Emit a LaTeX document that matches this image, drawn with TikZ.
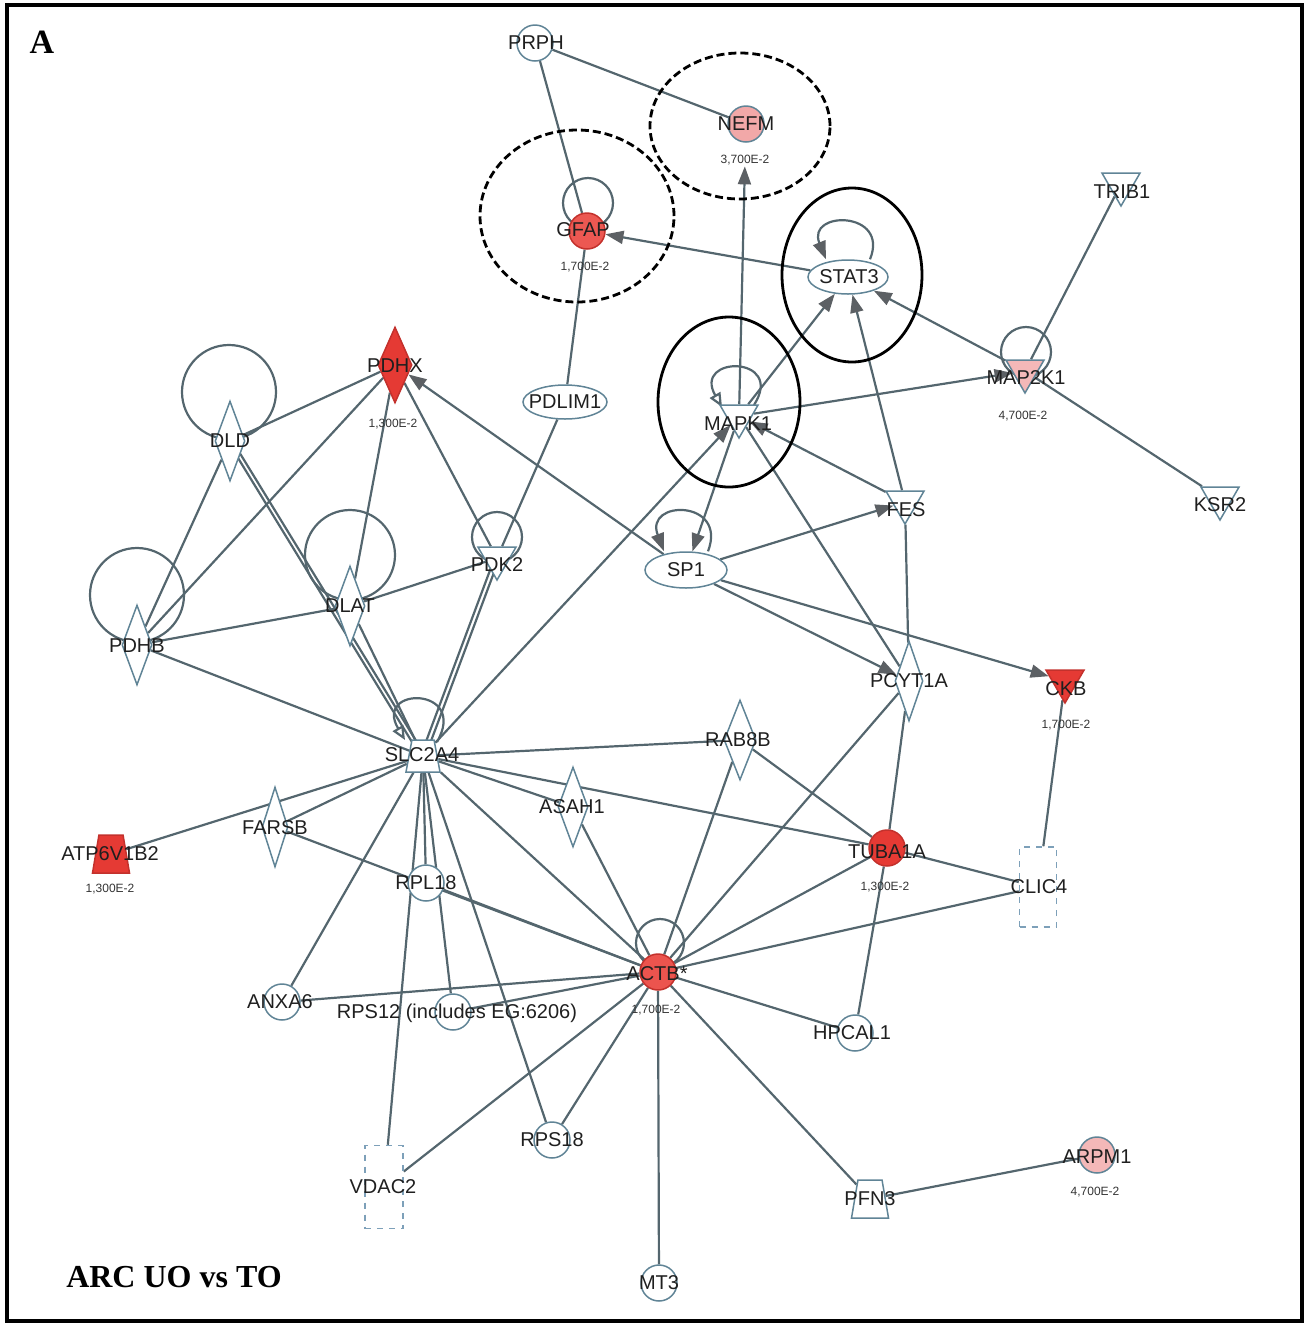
\documentclass[tikz,border=0pt]{standalone}
\usepackage{fontspec}
\setmainfont{Liberation Sans}
\newfontfamily\panelfont{Liberation Serif}
\usepackage{tikz}
\usetikzlibrary{shapes.geometric, arrows.meta, backgrounds, calc}

\definecolor{nodeline}{RGB}{96,132,150}
\definecolor{boxline}{RGB}{125,160,185}
\definecolor{linkc}{RGB}{84,102,110}
\definecolor{tipc}{RGB}{92,96,100}
\definecolor{redc}{RGB}{229,58,52}
\definecolor{gfapc}{RGB}{236,88,82}
\definecolor{actbc}{RGB}{236,84,78}
\definecolor{pinkc}{RGB}{242,168,168}
\definecolor{palec}{RGB}{244,184,184}

\begin{document}
\begin{tikzpicture}[x=0.5pt,y=0.5pt,yscale=-1,
  gene/.style={circle, draw=nodeline, line width=0.75pt, fill=white, minimum size=18pt, inner sep=0pt},
  kin/.style={regular polygon, regular polygon sides=3, shape border rotate=180, draw=nodeline, line width=0.75pt, fill=white, minimum size=22pt, inner sep=0pt},
  dia/.style={diamond, draw=nodeline, line width=0.75pt, fill=white, minimum width=15pt, minimum height=40pt, inner sep=0pt},
  tf/.style={ellipse, draw=nodeline, line width=0.75pt, fill=white, minimum width=40pt, minimum height=17pt, inner sep=0pt},
  tra/.style={trapezium, trapezium stretches=true, trapezium left angle=75, trapezium right angle=75, draw=nodeline, line width=0.75pt, fill=white, minimum width=18.5pt, minimum height=19pt, inner sep=1pt},
  oth/.style={rectangle, draw=boxline, dashed, line width=0.75pt, fill=white, minimum width=18.5pt, minimum height=40pt, inner sep=0pt},
  hit/.style={draw=redc!85!black, fill=redc},
  lbl/.style={font=\fontsize{10}{12}\selectfont, text=black!88, inner sep=0pt},
  pval/.style={font=\fontsize{6}{7}\selectfont, text=black!80, inner sep=0.5pt},
  lnk/.style={draw=linkc, line width=1.1pt},
  act/.style={lnk, -{Triangle[length=9pt,width=6.5pt,color=tipc]}},
  self/.style={lnk, -{Triangle[length=7pt,width=6pt,fill=white]}},
  ring/.style={ellipse, draw=black, line width=1.4pt, inner sep=0pt},
]
\useasboundingbox (0,0) rectangle (1308,1324);

%Shape: Rectangle
\draw [line width=1.6pt] (7,5) rectangle (1302,1321);

%Shape: Circle
\node[gene, fill=pinkc] (nefm) at (746,124) {};
\node[gene] (prph) at (535,43) {};
\node[gene, hit, fill=gfapc] (gfap) at (587,231) {};
\node[gene, hit] (tuba1a) at (887,848) {};
\node[gene, hit, fill=actbc] (actb) at (658,972) {};
\node[gene] (hpcal1) at (855,1033) {};
\node[gene] (rpl18) at (426,883) {};
\node[gene] (anxa6) at (282,1002) {};
\node[gene] (rps12) at (453,1012) {};
\node[gene] (rps18) at (552,1140) {};
\node[gene] (mt3) at (659,1283) {};
\node[gene, fill=palec] (arpm1) at (1097,1155) {};
%Shape: Ellipse
\node[tf] (stat3) at (848,277) {};
\node[tf, minimum width=42pt] (pdlim1) at (565,402) {};
\node[tf, minimum width=41pt, minimum height=18pt] (sp1) at (686,570) {};
%Shape: Triangle
\node[kin] (trib1) at (1121,184) {};
\node[kin] (ksr2) at (1220,498) {};
\node[kin] (fes) at (905,502) {};
\node[kin] (mapk1) at (739,416) {};
\node[kin, fill=palec] (map2k1) at (1025,371) {};
\node[kin] (pdk2) at (497,558) {};
\node[kin, hit] (ckb) at (1065,681) {};
%Shape: Diamond
\node[dia, hit, minimum width=17pt, minimum height=38pt] (pdhx) at (395,365) {};
\node[dia] (dld) at (230,441) {};
\node[dia] (dlat) at (350,606) {};
\node[dia] (pdhb) at (137,645) {};
\node[dia, minimum width=14pt] (pcyt1a) at (909,681) {};
\node[dia, minimum width=16pt] (rab8b) at (740,740) {};
\node[dia] (asah1) at (573,807) {};
\node[dia, minimum width=13pt] (farsb) at (275,827) {};
%Shape: Trapezium
\node[tra, minimum width=17pt, minimum height=16pt] (slc2a4) at (423,756) {};
\node[tra, hit] (atp6v1b2) at (111,854) {};
\node[tra] (pfn3) at (870,1199) {};
%Shape: Dashed box
\node[oth] (clic4) at (1038,887) {};
\node[oth, minimum width=19pt, minimum height=41.5pt] (vdac2) at (384,1187) {};

% Text Node
\node[lbl] (prphl) at (536,43) {PRPH};
\node[lbl] (nefml) at (746,124) {NEFM};
\node[pval] (nefmv) at (745,160) {3,700E-2};
\node[lbl] (gfapl) at (583,230) {GFAP};
\node[pval] (gfapv) at (585,267) {1,700E-2};
\node[lbl] (stat3l) at (849,277) {STAT3};
\node[lbl] (trib1l) at (1122,192) {TRIB1};
\node[lbl] (map2k1l) at (1026,378) {MAP2K1};
\node[pval] (map2k1v) at (1023,416) {4,700E-2};
\node[lbl] (ksr2l) at (1220,505) {KSR2};
\node[lbl] (fesl) at (906,510) {FES};
\node[lbl] (mapk1l) at (738,424) {MAPK1};
\node[lbl] (pdlim1l) at (565,402) {PDLIM1};
\node[lbl] (pdhxl) at (395,366) {PDHX};
\node[pval] (pdhxv) at (393,424) {1,300E-2};
\node[lbl] (dldl) at (230,441) {DLD};
\node[lbl] (dlatl) at (350,606) {DLAT};
\node[lbl] (pdhbl) at (137,646) {PDHB};
\node[lbl] (pdk2l) at (497,565) {PDK2};
\node[lbl] (sp1l) at (686,570) {SP1};
\node[lbl] (pcyt1al) at (909,681) {PCYT1A};
\node[lbl] (ckbl) at (1066,689) {CKB};
\node[pval] (ckbv) at (1066,725) {1,700E-2};
\node[lbl] (rab8bl) at (738,740) {RAB8B};
\node[lbl] (slc2a4l) at (422,755) {SLC2A4};
\node[lbl] (asah1l) at (572,807) {ASAH1};
\node[lbl] (farsbl) at (275,828) {FARSB};
\node[lbl] (atp6v1b2l) at (110,854) {ATP6V1B2};
\node[pval] (atp6v1b2v) at (110,889) {1,300E-2};
\node[lbl] (tuba1al) at (887,852) {TUBA1A};
\node[pval] (tuba1av) at (885,887) {1,300E-2};
\node[lbl] (clic4l) at (1039,887) {CLIC4};
\node[lbl] (rpl18l) at (426,883) {RPL18};
\node[lbl] (anxa6l) at (280,1002) {ANXA6};
\node[lbl] (rps12l) at (457,1013) {RPS12 (includes EG:6206)};
\node[lbl] (actbl) at (657,974) {ACTB*};
\node[pval] (actbv) at (656,1010) {1,700E-2};
\node[lbl] (hpcal1l) at (852,1033) {HPCAL1};
\node[lbl] (rps18l) at (552,1140) {RPS18};
\node[lbl] (vdac2l) at (383,1187) {VDAC2};
\node[lbl] (pfn3l) at (870,1199) {PFN3};
\node[lbl] (arpm1l) at (1097,1157) {ARPM1};
\node[pval] (arpm1v) at (1095,1192) {4,700E-2};
\node[lbl] (mt3l) at (659,1283) {MT3};

% Highlight rings
\node[ring, dashed, dash pattern=on 4pt off 2pt, minimum width=97pt, minimum height=86pt] (gfapring) at (577,216) {};
\node[ring, dashed, dash pattern=on 4pt off 2pt, minimum width=90pt, minimum height=73pt] (nefmring) at (740,126) {};
\node[ring, minimum width=70pt, minimum height=87pt] (stat3ring) at (852,275) {};
\node[ring, minimum width=71pt, minimum height=85pt] (mapk1ring) at (729,402) {};

% Panel text
\node[font=\panelfont\bfseries\fontsize{17}{20}\selectfont, inner sep=0pt] (panel) at (42,42) {A};
\node[font=\panelfont\bfseries\fontsize{16}{19}\selectfont, inner sep=0pt] (cond) at (174,1277) {ARC UO vs TO};

\begin{scope}[on background layer]
% self loops
\draw[lnk] (gfap) ++(1,-28) circle (12.5pt);
\draw[lnk] (dld) ++(-1,-49) circle (23.5pt);
\draw[lnk] (dlat) ++(0,-51) circle (22.5pt);
\draw[lnk] (pdhb) ++(0,-50) circle (23.5pt);
\draw[lnk] (pdk2) ++(0,-21) circle (12.5pt);
\draw[lnk] (map2k1) ++(1,-19) circle (12.5pt);
\draw[lnk] (actb) ++(2,-29) circle (12pt);
\draw[self] ($(mapk1)+(15,-11)$) .. controls +(32,-50) and +(-30,-52) .. ($(mapk1)+(-17,-9)$);
\draw[self] ($(slc2a4)+(14,-14)$) .. controls +(32,-56) and +(-32,-54) .. ($(slc2a4)+(-18,-16)$);
\draw[act] ([xshift=11pt]stat3.north) .. controls +(20,-49) and +(-20,-49) .. ([xshift=-11pt]stat3.north);
\draw[act] ([xshift=11pt]sp1.north) .. controls +(20,-52) and +(-20,-52) .. ([xshift=-11pt]sp1.north);

% upper network
\draw[lnk] (prph) -- (nefm);
\draw[lnk] (prph) -- (gfap);
\draw[act] (stat3) -- (gfap);
\draw[act] (mapk1) -- (nefmv);
\draw[lnk] (gfap) -- (pdlim1);
\draw[lnk] (pdlim1) -- (pdk2);
\draw[act] (mapk1) -- (stat3);
\draw[act] (fes) -- (stat3);
\draw[act] (map2k1) -- (stat3);
\draw[lnk] (trib1) -- (map2k1);
\draw[lnk] (map2k1) -- (ksr2);
\draw[act] (mapk1) -- (map2k1);
\draw[act] (fes) -- (mapk1);
\draw[act] (mapk1) -- (sp1);
\draw[act] (slc2a4) -- (mapk1);
\draw[act] (sp1) -- (fes);
\draw[act] (sp1) -- (pcyt1a);
\draw[act] (sp1) -- (ckb);
\draw[act] (sp1) -- (pdhx);
\draw[lnk] (mapk1) -- (pcyt1a);
\draw[lnk] (fes) -- (pcyt1a);
\draw[lnk] (pcyt1a) -- (tuba1a);
\draw[lnk] (pdhx) -- (dld);
\draw[lnk] (pdhx) -- (pdhb);
\draw[lnk] (pdhx) -- (dlat);
\draw[lnk] (pdhx) -- (pdk2);
\draw[lnk] (dld) -- (pdhb);
\draw[lnk] ([xshift=-1.2pt]dld.center) -- ([xshift=-1.2pt]slc2a4.center);
\draw[lnk] ([xshift=1.2pt]dld.center) -- ([xshift=1.2pt]slc2a4.center);
\draw[lnk] (dlat) -- (slc2a4);
\draw[lnk] (dlat) -- (pdk2);
\draw[lnk] (dlat) -- (pdhb);
\draw[lnk] (pdhb) -- (slc2a4);
\draw[lnk] ([xshift=-1.2pt]pdk2.center) -- ([xshift=-1.2pt]slc2a4.center);
\draw[lnk] ([xshift=1.2pt]pdk2.center) -- ([xshift=1.2pt]slc2a4.center);

% lower network
\foreach \g in {rab8b,asah1,tuba1a,farsb,atp6v1b2,rpl18,vdac2,rps12,rps18,anxa6,actb}
  \draw[lnk] (slc2a4) -- (\g);
\foreach \g in {farsb,rpl18,anxa6,rps12,vdac2,rps18,mt3,pfn3,hpcal1,clic4,tuba1a,pcyt1a,rab8b,asah1}
  \draw[lnk] (actb) -- (\g);
\draw[lnk] (tuba1a) -- (clic4);
\draw[lnk] (tuba1a) -- (hpcal1);
\draw[lnk] (tuba1a) -- (rab8b);
\draw[lnk] (clic4) -- (ckb);
\draw[lnk] (pfn3) -- (arpm1);
\end{scope}

\end{tikzpicture}
\end{document}
